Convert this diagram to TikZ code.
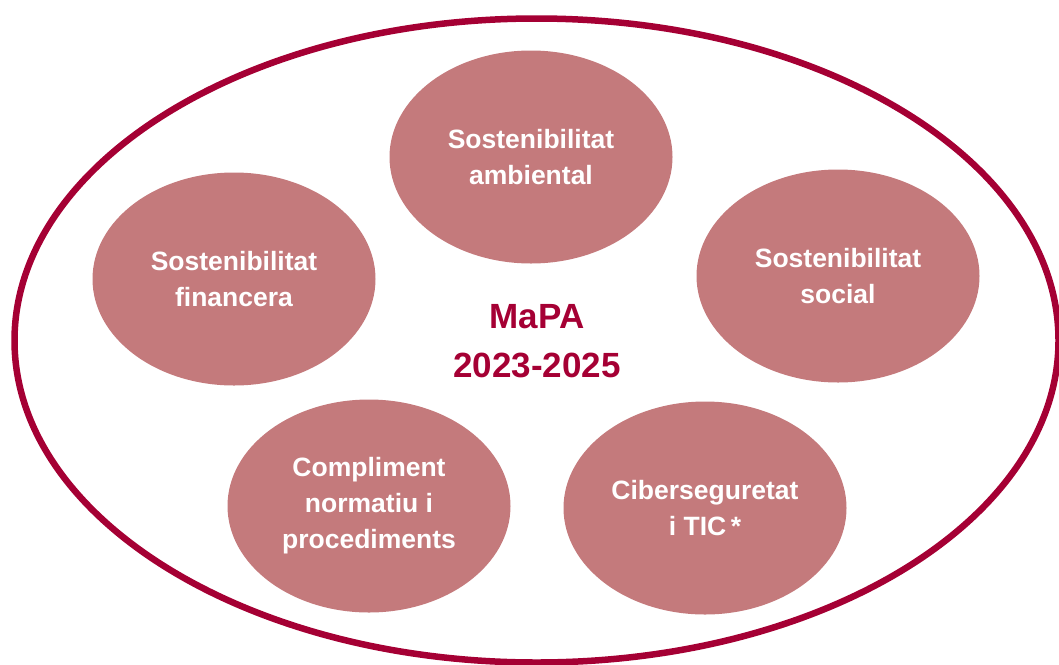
\documentclass[tikz,border=0pt]{standalone}
\usepackage{fontspec}
\setmainfont{Liberation Sans}
\usetikzlibrary{shapes.geometric}
\definecolor{crimson}{HTML}{A50034}
\definecolor{rosefill}{HTML}{C47A7C}
\begin{document}
\begin{tikzpicture}[x=1pt,y=-1pt,
  topic/.style={ellipse, fill=rosefill, draw=none, minimum width=283pt, minimum height=213pt,
    inner sep=0pt, align=center, text=white,
    font=\fontsize{26.5}{36}\selectfont\bfseries},
  frame/.style={ellipse, draw=crimson, line width=6.5pt, minimum width=1044pt, minimum height=644pt, inner sep=0pt},
  title/.style={align=center, text=crimson, font=\fontsize{35}{49}\selectfont\bfseries}]
\useasboundingbox (0,0) rectangle (1059,664);
\node[frame] (outer) at (536.5,340.5) {};
\node[topic] (amb) at (531,157) {Sostenibilitat\\ambiental};
\node[topic] (fin) at (234,279) {Sostenibilitat\\financera};
\node[topic] (soc) at (838,276) {Sostenibilitat\\social};
\node[topic] (comp) at (369,506) {Compliment\\normatiu i\\procediments};
\node[topic] (cib) at (705,508) {Ciberseguretat\\i TIC\,*};
\node[title] (mapa) at (537,341) {MaPA\\2023-2025};
\end{tikzpicture}
\end{document}
